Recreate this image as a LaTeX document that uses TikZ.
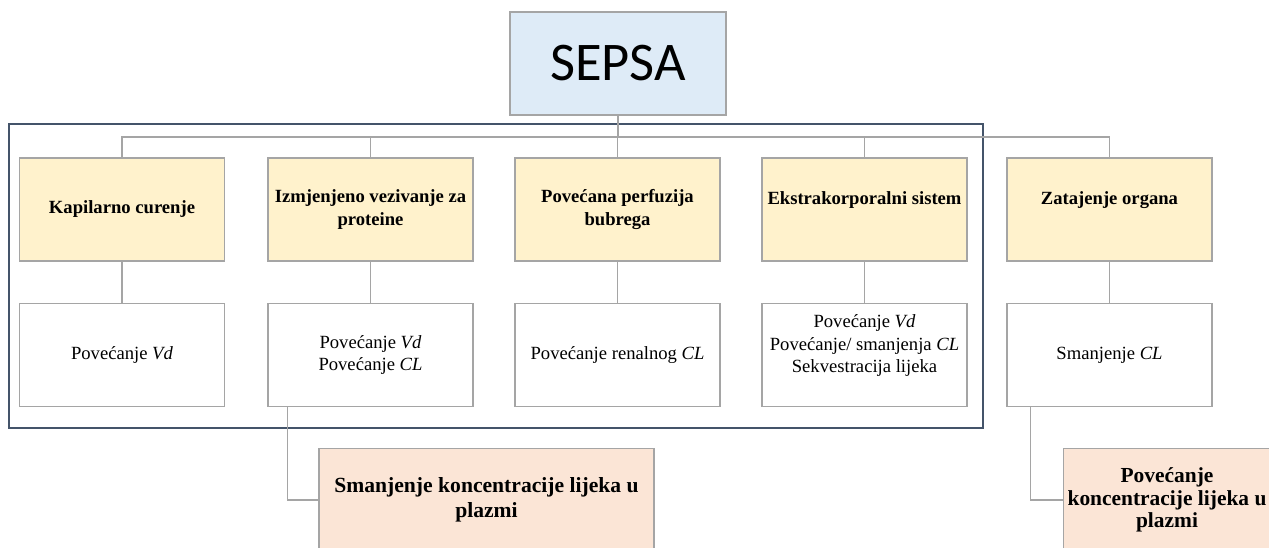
\documentclass[tikz,border=0pt]{standalone}
\usepackage{fontspec}
\setmainfont{Liberation Serif}
\newfontfamily\bodyfont{Liberation Serif}
\newfontfamily\titlefont{Carlito}
\definecolor{sepsafill}{HTML}{DEEBF7}
\definecolor{causefill}{HTML}{FFF2CC}
\definecolor{resultfill}{HTML}{FBE5D6}
\definecolor{boxgray}{HTML}{A5A5A5}
\definecolor{framecol}{HTML}{44546A}

\begin{document}
\begin{tikzpicture}
[x=0.02cm,y=-0.02cm,%
  line/.style={draw=boxgray,line width=0.8pt},%
  box/.style={draw=boxgray,line width=0.9pt,minimum width=4.1cm,minimum height=2.06cm,%
    inner sep=2pt,align=center,font=\bodyfont\fontsize{10.6}{12.8}\selectfont},%
  cause/.style={box,fill=causefill,font=\bodyfont\bfseries\fontsize{10.6}{12.8}\selectfont},%
  effect/.style={box,fill=white},%
  result/.style={box,fill=resultfill}]
\clip (0,0) rectangle (1269,548);
\node[box,fill=sepsafill,minimum width=4.32cm,font=\titlefont\fontsize{31}{36}\selectfont]
  (sepsa) at (618,63.5) {SEPSA};
\draw[framecol,line width=0.9pt] (9,124) rectangle (983,428);
\coordinate (bus) at (618,137);
\node[cause] (c1) at (122,209.5) {Kapilarno curenje};
\node[cause] (c2) at (370.5,209.5) {Izmjenjeno vezivanje za\\proteine};
\node[cause] (c3) at (617.5,209.5) {Povećana perfuzija\\bubrega};
\node[cause] (c4) at (864.5,209.5) {Ekstrakorporalni sistem\\\mbox{}};
\node[cause] (c5) at (1109.5,209.5) {Zatajenje organa\\\mbox{}};
\node[effect] (e1) at (122,355) {Povećanje \textit{Vd}};
\node[effect] (e2) at (370.5,355) {Povećanje \textit{Vd}\\Povećanje \textit{CL}};
\node[effect] (e3) at (617.5,355) {Povećanje renalnog \textit{CL}};
\node[effect] (e4) at (864.5,355) {Povećanje \textit{Vd}\\Povećanje/ smanjenja \textit{CL}\\Sekvestracija lijeka\\\mbox{}};
\node[effect] (e5) at (1109.5,355) {Smanjenje \textit{CL}};
\node[result,minimum width=6.7cm,font=\bodyfont\bfseries\fontsize{12.3}{14.2}\selectfont]
  (r1) at (486.5,500) {Smanjenje koncentracije lijeka u\\plazmi};
\node[result,minimum width=4.14cm,font=\bodyfont\bfseries\fontsize{12.2}{12.8}\selectfont]
  (r2) at (1167,500) {Povećanje\\koncentracije lijeka u\\plazmi};
\draw[line] (sepsa.south) -- (bus);
\draw[line] (c1.north) |- (bus) -| (c5.north);
\foreach \c in {c2,c3,c4}
  \draw[line] (\c.north) -- (\c.north |- bus);
\foreach \i in {1,...,5}
  \draw[line] (c\i.south) -- (e\i.north);
\draw[line] ([xshift=0.4cm]e2.south west) |- (r1.west);
\draw[line] ([xshift=0.48cm]e5.south west) |- (r2.west);
\end{tikzpicture}
\end{document}
